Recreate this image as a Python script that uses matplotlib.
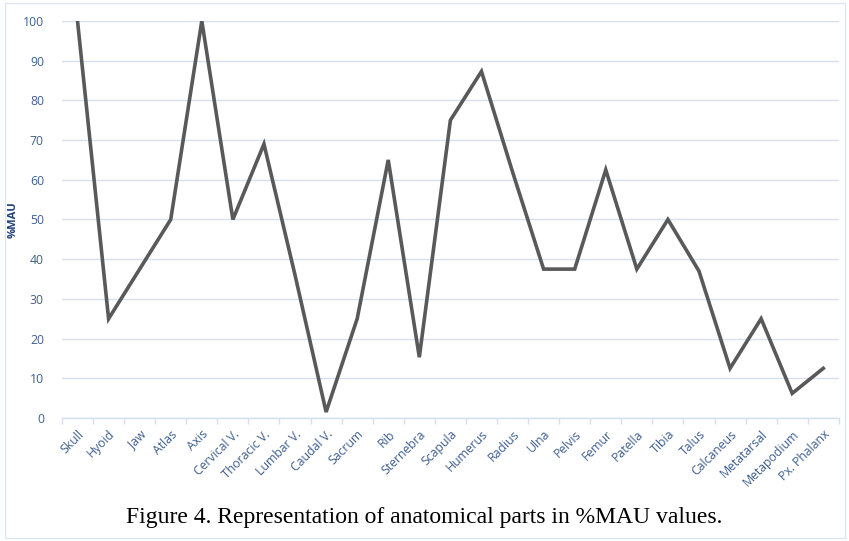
"""
Line chart of %MAU values per anatomical part
"""
import matplotlib
matplotlib.use('Agg')
import matplotlib.pyplot as plt
from matplotlib.patches import Rectangle
import numpy as np

# data
parts = ['Skull', 'Hyoid', 'Jaw', 'Atlas', 'Axis', 'Cervical V.', 'Thoracic V.',
         'Lumbar V.', 'Caudal V.', 'Sacrum', 'Rib', 'Sternebra', 'Scapula',
         'Humerus', 'Radius', 'Ulna', 'Pelvis', 'Femur', 'Patella', 'Tibia',
         'Talus', 'Calcaneus', 'Metatarsal', 'Metapodium', 'Px. Phalanx']
mau = [100, 25, 37.5, 50, 100, 50, 69, 36, 1.5, 25, 65, 15.3, 75, 87.3, 62,
       37.5, 37.5, 62.5, 37.5, 50, 37, 12.5, 25, 6.2, 12.5]
y_ticks = [0, 10, 20, 30, 40, 50, 60, 70, 80, 90, 100]

caption = 'Figure 4. Representation of anatomical parts in %MAU values.'

tick_color = '#3F5F8F'
grid_color = '#D6E0F0'
line_color = '#595959'

fig = plt.figure(figsize=(8.49, 5.41), dpi=100)
ax = fig.add_axes([0.073, 0.2274, 0.915, 0.7338])

x = np.arange(len(parts))
ax.plot(x, mau, color=line_color, linewidth=2.6, solid_joinstyle='miter',
        zorder=3)

ax.set_xlim(-0.5, len(parts) - 0.5)
ax.set_ylim(0, 100)
ax.set_yticks(y_ticks)
ax.set_xticks(x)
ax.set_xticklabels(parts, rotation=45, ha='right', rotation_mode='anchor',
                   fontsize=8.8, color=tick_color, family='Open Sans')
ax.set_xticks(np.arange(-0.5, len(parts)), minor=True)
ax.tick_params(axis='x', which='major', length=0, pad=7)
ax.tick_params(axis='x', which='minor', length=4, color=grid_color, width=1)
ax.tick_params(axis='y', length=0, pad=13, labelsize=8.8,
               labelcolor=tick_color)
for lab in ax.get_yticklabels():
    lab.set_family('Open Sans')

ax.grid(axis='y', color=grid_color, linewidth=1)
ax.set_axisbelow(True)
for side in ['top', 'right', 'left']:
    ax.spines[side].set_visible(False)
ax.spines['bottom'].set_color(grid_color)
ax.spines['bottom'].set_linewidth(1)

ax.set_ylabel('%MAU', fontsize=8, fontweight='bold', color='#1F3F7A',
              family='Open Sans')
ax.yaxis.set_label_coords(-0.056, 0.5)

# light frame around the whole chart and the caption below it
fig.patches.append(Rectangle((5 / 849, 3 / 541), 840 / 849, 535 / 541,
                             transform=fig.transFigure, fill=False,
                             edgecolor='#DCE6F2', linewidth=1))
fig.text(0.5, 1 - 518 / 541, caption, ha='center', va='center',
         fontsize=17, family='Liberation Serif', color='black')

fig.savefig('out.png', dpi=100)
